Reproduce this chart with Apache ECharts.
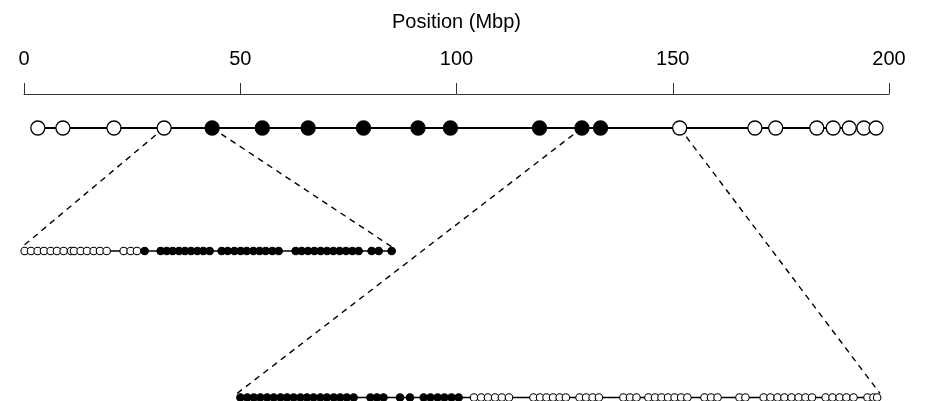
<!DOCTYPE html>
<html>
<head>
<meta charset="utf-8">
<script src="https://cdn.jsdelivr.net/npm/echarts@6/dist/echarts.min.js"></script>
<style>
html,body{margin:0;padding:0;background:#fff;}
#c{width:926px;height:401px;}
</style>
</head>
<body>
<div id="c"></div>
<script>
// ---- data (positions in Mbp) ----
const xTicks = [0, 50, 100, 150, 200];
const mainOpen = [3.2, 9.0, 20.8, 32.4, 151.6, 169.0, 173.8, 183.3, 187.1, 190.8, 194.2, 197.0];
const mainFilled = [43.5, 55.1, 65.7, 78.5, 91.1, 98.6, 119.2, 129.0, 133.3];

const row2Range = [32.4, 43.5];
const row2Open = [32.48, 32.67, 32.87, 33.06, 33.26, 33.45, 33.65, 33.87, 33.96, 34.16, 34.35, 34.55, 34.74, 34.94, 35.45, 35.66, 35.85];
const row2Filled = [36.08, 36.56, 36.74, 36.92, 37.11, 37.29, 37.47, 37.66, 37.84, 38.03,
  38.39, 38.57, 38.77, 38.96, 39.14, 39.34, 39.53, 39.71, 39.91, 40.10,
  40.61, 40.79, 40.98, 41.17, 41.36, 41.55, 41.74, 41.93, 42.12, 42.31, 42.50,
  42.89, 43.10, 43.49];

const row3Range = [129.0, 151.6];
const row3Filled = [129.12, 129.36, 129.59, 129.82, 130.06, 130.29, 130.53, 130.76, 130.99, 131.23, 131.46, 131.69, 131.93, 132.16, 132.40, 132.63, 132.86, 133.10,
  133.69, 133.92, 134.15, 134.73, 135.08,
  135.56, 135.80, 136.05, 136.29, 136.54, 136.79];
const row3Open = [137.33, 137.58, 137.82, 138.07, 138.31, 138.56,
  139.42, 139.65, 139.88, 140.11, 140.34, 140.56,
  141.04, 141.27, 141.50, 141.72,
  142.58, 142.81, 143.04,
  143.46, 143.69, 143.92, 144.15, 144.38, 144.61, 144.83,
  145.43, 145.66, 145.89,
  146.66, 146.87,
  147.51, 147.75, 148.00, 148.24, 148.49, 148.74, 148.98, 149.21,
  149.69, 149.93, 150.18, 150.42, 150.67,
  151.16, 151.37, 151.50];

const FONT = 'Liberation Sans, Arial, Helvetica, sans-serif';

function pts(arr){ return arr.map(v => [v, 1]); }
function lineData(a, b){ return a.concat(b).sort((x,y)=>x-y).map(v => [v, 1]); }

function rowSeries(idx, open, filled, size, lw, bw){
  return [
    {type:'line', xAxisIndex:idx, yAxisIndex:idx, data:lineData(open, filled), showSymbol:false, symbol:'none',
     lineStyle:{color:'#000', width:lw}, z:2, silent:true, clip:false},
    {type:'scatter', xAxisIndex:idx, yAxisIndex:idx, data:pts(open), symbol:'circle', symbolSize:size,
     itemStyle:{color:'#fff', borderColor:'#000', borderWidth:bw, opacity:1}, z:4, silent:true, clip:false},
    {type:'scatter', xAxisIndex:idx, yAxisIndex:idx, data:pts(filled), symbol:'circle', symbolSize:size,
     itemStyle:{color:'#000', borderColor:'#000', borderWidth:bw, opacity:1}, z:4, silent:true, clip:false}
  ];
}

const chart = echarts.init(document.getElementById('c'), null, {renderer:'canvas'});
const option = {
  animation:false,
  backgroundColor:'#fff',
  grid:[
    {left:24, width:865, top:94, height:68},
    {left:22, width:370, top:241, height:20},
    {left:237, width:643, top:394, height:7}
  ],
  xAxis:[
    {gridIndex:0, type:'value', position:'top', min:xTicks[0], max:xTicks[xTicks.length-1], interval:50,
     name:'Position (Mbp)', nameLocation:'middle', nameGap:62,
     nameTextStyle:{color:'#000', fontSize:20, fontFamily:FONT},
     axisLine:{show:true, onZero:false, lineStyle:{color:'#333', width:1}},
     axisTick:{show:true, inside:false, length:11, lineStyle:{color:'#333', width:1}},
     axisLabel:{show:true, margin:25, color:'#000', fontSize:20, fontFamily:FONT,
       formatter: v => xTicks.includes(v) ? String(v) : ''},
     splitLine:{show:false}},
    {gridIndex:1, type:'value', min:row2Range[0], max:row2Range[1], show:false},
    {gridIndex:2, type:'value', min:row3Range[0], max:row3Range[1], show:false}
  ],
  yAxis:[
    {gridIndex:0, type:'value', min:0, max:2, show:false},
    {gridIndex:1, type:'value', min:0, max:2, show:false},
    {gridIndex:2, type:'value', min:0, max:2, show:false}
  ],
  series:[].concat(
    rowSeries(0, mainOpen, mainFilled, 14, 1.8, 1.3),
    rowSeries(1, row2Open, row2Filled, 7.5, 1.4, 1.1),
    rowSeries(2, row3Open, row3Filled, 7.5, 1.4, 1.1)
  )
};
chart.setOption(option);

// dashed connectors from the main row to the zoomed rows
function px(idx, v){ return chart.convertToPixel({xAxisIndex:idx, yAxisIndex:idx}, [v, 1]); }
const links = [[row2Range[0], 1], [row2Range[1], 1], [row3Range[0], 2], [row3Range[1], 2]];
const graphics = links.map(([v, idx]) => {
  const a = px(0, v), b = px(idx, v);
  return {type:'line', z:1, silent:true,
    shape:{x1:a[0], y1:a[1], x2:b[0], y2:b[1]-4},
    style:{stroke:'#000', lineWidth:1.4, lineDash:[6,5]}};
});
chart.setOption({graphic:graphics});
</script>
</body>
</html>
